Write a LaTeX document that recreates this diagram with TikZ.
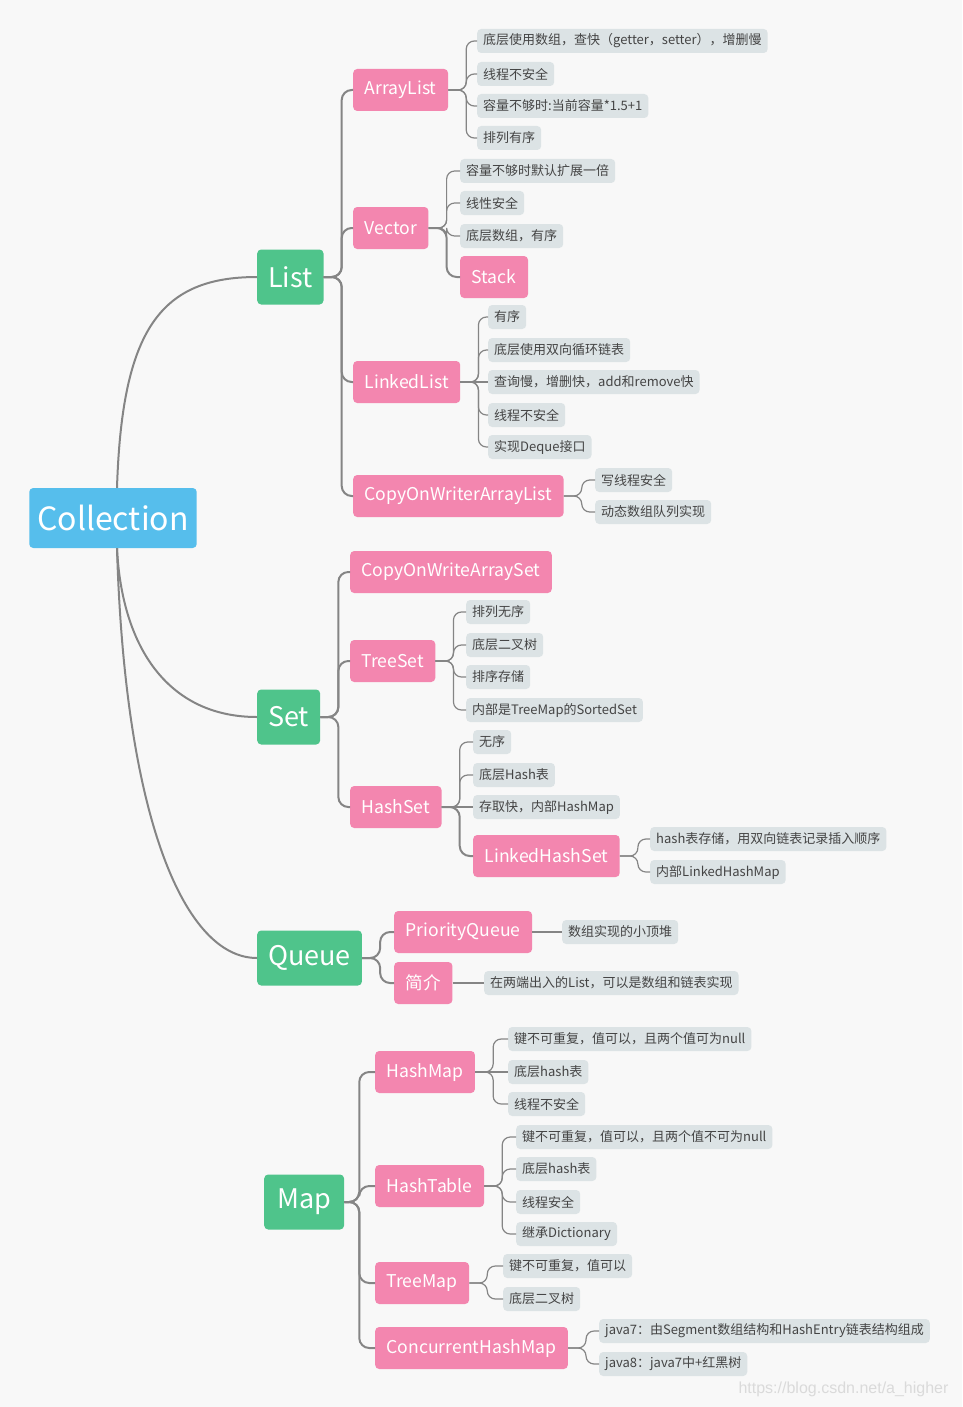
\documentclass[tikz,border=0pt]{standalone}
\usepackage{fontspec}
\setmainfont{Noto Sans CJK SC}
\newfontfamily\wmfont{Liberation Sans}
\definecolor{bgC}{HTML}{F8F8F8}
\definecolor{blueC}{HTML}{56BEEC}
\definecolor{greenC}{HTML}{4FC48B}
\definecolor{pinkC}{HTML}{F386AF}
\definecolor{leafC}{HTML}{DCE3E5}
\definecolor{leafT}{HTML}{444444}
\definecolor{lineC}{HTML}{858585}
\definecolor{wmC}{HTML}{DADADA}
\tikzset{
 rootbox/.style={fill=blueC, text=white, rounded corners=4pt, font=\fontsize{32}{36}\selectfont, minimum height=60pt, minimum width=167pt, inner xsep=8pt},
 catbox/.style={fill=greenC, text=white, rounded corners=4pt, font=\fontsize{27}{30}\selectfont, minimum height=55pt, inner xsep=11pt, anchor=west},
 clsbox/.style={fill=pinkC, text=white, rounded corners=4pt, font=\fontsize{17.6}{20}\selectfont, minimum height=42pt, inner xsep=11.5pt, anchor=west},
 leafbox/.style={fill=leafC, text=leafT, rounded corners=4pt, font=\fontsize{13}{15}\selectfont, minimum height=24pt, inner xsep=6pt, anchor=west},
 bigline/.style={draw=lineC, line width=2pt, rounded corners=10pt},
 thinline/.style={draw=lineC, line width=1.2pt, rounded corners=8pt},
}
\newcommand\brBig[2]{\draw[bigline] (#1.east) -- ++(18,0) |- (#2.west);}
\newcommand\brThin[2]{\draw[thinline] (#1.east) -- ++(18,0) |- (#2.west);}
\begin{document}
\begin{tikzpicture}[x=1pt,y=-1pt]
\fill[bgC] (0,0) rectangle (962,1407);
\useasboundingbox (0,0) rectangle (962,1407);

% root and categories
\node[rootbox] (coll) at (113,518) {Collection};
\node[catbox] (list) at (257,277) {List};
\node[catbox] (set) at (257,717) {Set};
\node[catbox] (queue) at (257,958) {Queue};
\node[catbox, inner xsep=13pt] (map) at (264,1202) {Map};

% List
\node[clsbox] (arraylist) at (353,90) {ArrayList};
\node[clsbox] (vector) at (353,228) {Vector};
\node[clsbox] (linkedlist) at (353,382) {LinkedList};
\node[clsbox] (cowal) at (353,496) {CopyOnWriterArrayList};

\node[leafbox] (al1) at (477,41) {底层使用数组，查快（getter，setter），增删慢};
\node[leafbox] (al2) at (477,74) {线程不安全};
\node[leafbox] (al3) at (477,106) {容量不够时:当前容量*1.5+1};
\node[leafbox] (al4) at (477,138) {排列有序};

\node[leafbox] (v1) at (460,171) {容量不够时默认扩展一倍};
\node[leafbox] (v2) at (460,203) {线性安全};
\node[leafbox] (v3) at (460,236) {底层数组，有序};
\node[clsbox] (stack) at (460,277) {Stack};

\node[leafbox] (ll1) at (488,317) {有序};
\node[leafbox] (ll2) at (488,350) {底层使用双向循环链表};
\node[leafbox] (ll3) at (488,382) {查询慢，增删快，add和remove快};
\node[leafbox] (ll4) at (488,415) {线程不安全};
\node[leafbox] (ll5) at (488,447) {实现Deque接口};

\node[leafbox] (c1) at (595,480) {写线程安全};
\node[leafbox] (c2) at (595,512) {动态数组队列实现};

% Set
\node[clsbox] (cowas) at (350,572) {CopyOnWriteArraySet};
\node[clsbox] (treeset) at (350,661) {TreeSet};
\node[clsbox] (hashset) at (350,807) {HashSet};

\node[leafbox] (ts1) at (466,612) {排列无序};
\node[leafbox] (ts2) at (466,645) {底层二叉树};
\node[leafbox] (ts3) at (466,677) {排序存储};
\node[leafbox] (ts4) at (466,710) {内部是TreeMap的SortedSet};

\node[leafbox] (hs1) at (473,742) {无序};
\node[leafbox] (hs2) at (473,775) {底层Hash表};
\node[leafbox] (hs3) at (473,807) {存取快，内部HashMap};
\node[clsbox] (lhs) at (473,856) {LinkedHashSet};

\node[leafbox] (lh1) at (650,839) {hash表存储，用双向链表记录插入顺序};
\node[leafbox] (lh2) at (650,872) {内部LinkedHashMap};

% Queue
\node[clsbox] (pq) at (394,932) {PriorityQueue};
\node[clsbox] (intro) at (394,983) {简介};
\node[leafbox] (pq1) at (562,932) {数组实现的小顶堆};
\node[leafbox] (in1) at (484,983) {在两端出入的List，可以是数组和链表实现};

% Map
\node[clsbox] (hashmap) at (375,1072) {HashMap};
\node[clsbox] (hashtable) at (375,1186) {HashTable};
\node[clsbox] (treemap) at (375,1283) {TreeMap};
\node[clsbox] (chm) at (375,1348) {ConcurrentHashMap};

\node[leafbox] (hm1) at (508,1039) {键不可重复，值可以，且两个值可为null};
\node[leafbox] (hm2) at (508,1072) {底层hash表};
\node[leafbox] (hm3) at (508,1104) {线程不安全};

\node[leafbox] (ht1) at (516,1137) {键不可重复，值可以，且两个值不可为null};
\node[leafbox] (ht2) at (516,1169) {底层hash表};
\node[leafbox] (ht3) at (516,1202) {线程安全};
\node[leafbox] (ht4) at (516,1234) {继承Dictionary};

\node[leafbox] (tm1) at (503,1266) {键不可重复，值可以};
\node[leafbox] (tm2) at (503,1299) {底层二叉树};

\node[leafbox] (ch1) at (599,1331) {java7：由Segment数组结构和HashEntry链表结构组成};
\node[leafbox] (ch2) at (599,1364) {java8：java7中+红黑树};

% watermark
\node[anchor=east, text=wmC, font=\wmfont\fontsize{16}{18}\selectfont] (wm) at (952,1389) {https://blog.csdn.net/a\_higher};

% Collection curves
\draw[draw=lineC, line width=2pt] ([xshift=4pt]coll.north) .. controls (122,330) and (160,277) .. (list.west);
\draw[draw=lineC, line width=2pt] ([xshift=4pt]coll.south) .. controls (122,650) and (170,717) .. (set.west);
\draw[draw=lineC, line width=2pt] ([xshift=4pt]coll.south) .. controls (125,820) and (185,958) .. (queue.west);

% List branches
\brBig{list}{arraylist} \brBig{list}{vector} \brBig{list}{linkedlist} \brBig{list}{cowal}
\brThin{arraylist}{al1} \brThin{arraylist}{al2} \brThin{arraylist}{al3} \brThin{arraylist}{al4}
\brThin{vector}{v1} \brThin{vector}{v2} \brThin{vector}{v3} \brBig{vector}{stack}
\brThin{linkedlist}{ll1} \brThin{linkedlist}{ll2} \draw[thinline] (linkedlist.east) -- (ll3.west);
\brThin{linkedlist}{ll4} \brThin{linkedlist}{ll5}
\brThin{cowal}{c1} \brThin{cowal}{c2}

% Set branches
\brBig{set}{cowas} \brBig{set}{treeset} \brBig{set}{hashset}
\brThin{treeset}{ts1} \brThin{treeset}{ts2} \brThin{treeset}{ts3} \brThin{treeset}{ts4}
\brThin{hashset}{hs1} \brThin{hashset}{hs2} \draw[bigline] (hashset.east) -- (hs3.west); \brBig{hashset}{lhs}
\brThin{lhs}{lh1} \brThin{lhs}{lh2}

% Queue branches
\brBig{queue}{pq} \brBig{queue}{intro}
\draw[thinline] (pq.east) -- (pq1.west);
\draw[thinline] (intro.east) -- (in1.west);

% Map branches
\draw[bigline] (map.east) -- ++(15,0) |- (hashmap.west);
\draw[bigline] (map.east) -- ++(15,0) |- (hashtable.west);
\draw[bigline] (map.east) -- ++(15,0) |- (treemap.west);
\draw[bigline] (map.east) -- ++(15,0) |- (chm.west);
\brThin{hashmap}{hm1} \draw[bigline] (hashmap.east) -- (hm2.west); \brThin{hashmap}{hm3}
\brThin{hashtable}{ht1} \brThin{hashtable}{ht2} \brThin{hashtable}{ht3} \brThin{hashtable}{ht4}
\brThin{treemap}{tm1} \brThin{treemap}{tm2}
\brThin{chm}{ch1} \brThin{chm}{ch2}
\end{tikzpicture}
\end{document}
